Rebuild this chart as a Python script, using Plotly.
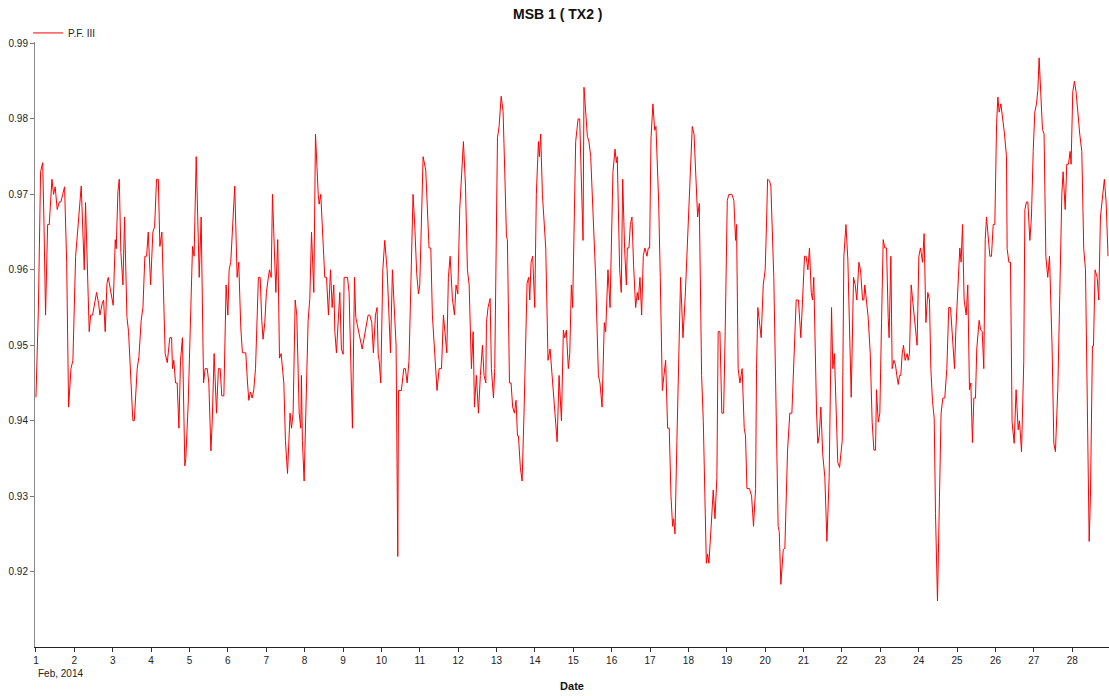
import pandas as pd
import plotly.graph_objects as go

# Hours elapsed since 1 Feb 2014 00:00 and the power-factor reading at that time
HOURS = [
    0, 1.5, 2.9, 4.2, 5, 6, 7.3, 8.3, 10, 11, 12, 13.3, 14.6, 15.6, 16.7, 17.9, 19.2, 20.4, 21.9, 23.1,
    24.8, 26.25, 28.3, 30.2, 31, 33.3, 34.2, 35.4, 36.9, 37.9, 39.2, 40, 41.5, 42.3, 43.3, 44.4, 45.2, 46.9,
    48.3, 49.6, 50.2, 51.25, 52.1, 53.1, 54.4, 55.4, 56.9, 57.9, 59.2, 60.6, 61.5, 62.3, 63.3, 64.4, 65.8,
    66.9, 68.1, 69.2, 70.2, 71.7, 73.1, 74.2, 75.4, 76.5, 77.5, 78.75, 80.2, 80.8, 82.1, 83.3,
    83.7, 84.8, 85.4, 86.2, 87.3, 88.3, 89.4, 90.4, 91.6, 93.1, 93.7, 95.2, 96.4, 97.9, 98.9, 100.2, 102.1,
    103.3, 104.8, 105.8, 107.1, 108.1, 109.4, 110.2, 111.4, 112.9, 114.1, 115.2, 116.2, 117.5, 118.9, 120,
    120.8, 121.8, 124.3, 125.8, 126.8, 128.1, 129.1, 131.2, 132.3, 133.1, 134.1, 135.2, 136.2, 137.3, 139.1,
    140.2, 141.2, 142, 143.1, 144.1, 145.2, 146, 147.1, 147.9, 150, 151.2, 152.3, 153.3, 155, 156, 157.3,
    158.9, 159.8, 160.8, 162.1, 163.1, 164.6, 165.6, 166, 166.6, 167.7,
    169.2, 170.2, 171.25, 172.3, 173.75, 174.8, 176.5, 177.1, 178.1, 180.6, 181.7, 182.9, 184.2, 185.2,
    186.25, 186.9, 187.9, 190, 191, 192.1, 192.7, 194.8, 195.8, 197.9, 199.2, 200, 204, 206, 207.7, 208.75,
    210, 211, 212.3, 213.3, 214, 214.6, 215.6, 216.9, 218.1, 219.6, 221.7, 222.9, 225.2, 226.25, 226.7,
    228.5, 230, 231, 232.1, 233.3, 234.6, 235.8, 236.9, 238.1, 239.2, 240, 242.1, 243.75, 245.8, 246.9,
    247.9, 249.4, 250.8, 252.1,
    253.6, 254.8, 255.9, 256.9, 257.9, 259, 260.4, 261.7, 262.7, 263.8, 265, 266.3, 267.3, 268.6, 269.8,
    270.9, 272.3, 273.4, 274.2, 275.4, 276.7, 277.9, 279.2, 280.2, 281.3, 281.7, 282.7, 284, 284.8, 286.1,
    286.9, 288.6, 289.6, 290.9, 292.1, 293.4, 294.2, 294.8, 296.1, 297.1, 298.1, 299.2, 300.2, 301.1, 301.7,
    302.9, 304, 305.2, 307.1, 308.1, 308.8, 309.6, 310.6, 311.9, 312.9, 314.2, 314.8, 315.6, 316.7, 318.8,
    320.2, 321.5, 322.7, 324, 325.9, 327.1, 328.6, 329.8, 330.6, 331.7, 332.9, 333.8, 334.8, 335.6, 336.7,
    337.5, 339, 340, 342.1, 342.7, 344.8, 345.8, 346.9, 350, 351.7, 352.7, 354, 355.4, 356.25, 357.7, 359,
    360.8, 362.1, 362.9, 363.5, 365, 366, 366.9, 368.1, 369.2, 369.8, 370.8, 371.7, 372.7, 373.75, 375, 376,
    376.7, 377.7, 378.75, 379.8, 380.8, 382.1, 382.9, 383.75, 384.6, 385.8, 386.9, 387.7, 389.4, 390.4,
    391.7, 392.7, 393.75, 395, 396, 397.1, 398.1, 398.75, 399.6, 400.8, 401.9, 403.1, 404.6, 406, 407.9,
    409.2, 410.4, 411.5, 412.3, 413.75, 414.8, 415.6, 416.25, 417.3, 418.3, 419.2, 420, 420.8,
    422.3, 423.5, 424.6, 425.8, 426.6, 427.7, 428.9, 430, 431, 432.3, 433.3, 435.2, 436.4, 437.5, 438.1,
    439.1, 440.2, 441.6, 442.9, 443.7, 444.6, 446.2, 447.5, 448.7, 450, 450.6, 451.4, 452.5, 453.5, 454.8,
    456, 456.85, 457.5, 458.7, 459.55, 461.4, 462.9, 464.1, 464.8, 465.8, 467.3, 468.3, 470, 471.4, 472.7,
    473.9, 475.4, 476.8, 478.3, 479.8, 480.6, 481.6, 482.7, 483.7, 484.8, 485.6, 486.4, 488.1, 488.9, 489.8,
    490.8, 492, 493.3, 494.6, 496, 497.5, 498.3, 499.3, 500.6, 501.4, 502.5,
    504.2, 505.2, 506.5, 507.7, 508.75, 509.8, 511.25, 512.3, 513.3, 514.6, 515.6, 516.9, 517.7, 518.3,
    520.4, 521.7, 522.9, 524, 525, 525.6, 526.7, 527.7, 528.75, 529.8, 530.8, 531.9, 532.9, 533.5, 534.6,
    535.4, 536.5, 537.5, 538.3, 539.2, 540, 540.8, 541.7, 542.5, 543.5, 544.8, 545.4, 546.25, 547.3, 548.75,
    550, 551, 552.1, 553.1, 554.4, 555.4, 556.5, 557.7, 558.75, 559.6, 560.6, 561.7, 562.5, 563.3, 563.75,
    565, 566, 567.1, 568.3, 569.6, 570.8, 571.9, 573.1, 574.4, 575.2, 576.5, 577.7, 578.5, 579.4, 580.4,
    581.7, 582.7, 583.75, 584.6, 585.6, 586.5, 587.5, 588.3, 589.8,
    590.65, 591.7, 592.7, 593.6, 594.4, 595.4, 596.5, 597.5, 598.6, 599.6, 600.7, 601.5, 602.3, 603.4,
    604.6, 605.65, 606.9, 607.3, 608.4, 609.4, 610.4, 611.7, 612.9, 614.2, 615, 616.3, 617.7, 618.4, 619.4,
    620.25, 621.5, 622.5, 623.6, 624.6, 625.65, 626.5, 627.3, 628.4, 629.4, 630.4, 631.5, 632.7, 633.8,
    635.4, 636.5, 637.5, 639, 640.2, 641.5, 642.3, 643.6, 644.6, 645.65, 646.7, 647.3, 648.35, 649.4, 650.4,
    651.5, 652.7, 654, 655.2, 656.3, 657.5, 658.6, 659.4, 660.65, 661.3, 662.3, 663.6, 664.6, 665.65, 667.1,
    668.1, 669.2, 670.4,
]

PF_III = [
    .9431, .9547, .973, .9742, .9663, .954, .966, .966, .972, .970, .971, .968, .969, .969, .970, .971, .961,
    .9418, .9469, .948, .9618, .9662, .9711, .960, .9689, .9518, .954, .954, .956, .957, .9555, .954, .9556,
    .956, .9518, .9582, .959, .957, .9553, .964, .9628, .9704, .972, .9623, .958, .967, .9537, .9518, .946,
    .940, .940, .9441, .9469, .9485, .9533, .955, .9618, .9618, .965, .958, .965, .9657, .972, .972, .9631,
    .965, .9537, .9489, .9477, .951,
    .951, .951, .9469, .948, .945, .945, .939, .948, .951, .934, .935, .9422, .9518, .9631, .9618, .975,
    .959, .967, .945, .9469, .9469, .945, .936, .9398, .9489, .941, .9469, .9469, .9433, .9433, .958, .954,
    .960, .961, .9711, .959, .961, .9523, .949, .949, .945, .9427, .9438, .943, .9441, .9469, .959, .959,
    .9533, .9508, .953, .957, .9588, .960, .959, .970, .957, .964, .9483, .9489, .945, .9374, .933, .941,
    .939, .941, .956, .954, .941, .939, .946, .9374, .932,
    .9469, .9533, .9562, .965, .957, .978, .970, .9687, .970, .959, .959, .954, .960, .955, .958, .9518,
    .949, .957, .9495, .9488, .959, .959, .957, .939, .959, .9537, .9495, .9518, .954, .954, .953, .949,
    .954, .955, .9488, .948, .945, .960, .9639, .960, .949, .960, .950, .922, .944, .944, .9469, .9469,
    .945, .948, .9604, .970, .9657, .9595, .9568, .958, .975, .9732, .9629, .9629, .954, .948, .944, .9469,
    .9469, .954, .9518, .949, .959, .9618, .9562, .954, .958, .9568, .9681, .9735, .977, .9711, .960, .958,
    .9469, .9518, .9418, .946, .941, .946, .950, .946, .945, .953, .955, .9562, .9469, .943, .9469, .9775,
    .979, .983, .981, .9711, .9645, .964, .945, .945, .9418, .941, .9427, .938, .938, .9338, .932, .941,
    .9582, .959, .956, .961, .9618, .955, .970, .977, .975, .978, .970, .9628, .948, .9495, .946, .9422,
    .9372, .946, .940, .952, .951, .952, .9469, .9489, .958, .955, .970,
    .977, .980, .980, .9639, .9842, .9777, .977, .975, .959, .946, .945, .9418, .953, .9518, .960, .955,
    .973, .976, .9742, .975, .960, .957, .972, .9628, .958, .9629, .9629, .966, .967, .9604, .955, .957,
    .956, .959, .954, .9619, .9629, .9618, .9629, .9629, .9775, .982, .9785, .979, .969, .959, .944, .946,
    .948, .939, .939, .930, .926, .927, .925, .9374, .9495, .959, .951, .9565, .9662, .9743, .979, .978,
    .974, .967, .9688, .9528, .946, .940, .9287, .9211, .9223, .9211,
    .9263, .9308, .927, .9325, .9518, .9518, .941, .941, .9518, .9692, .970, .970, .9692, .9639, .966,
    .9469, .945, .9469, .939, .938, .931, .931, .930, .926, .931, .9469, .955, .9523, .951, .958, .960,
    .9662, .972, .9718, .9711, .959, .9422, .926, .9253, .9183, .9229, .9231, .9361, .941, .941, .9483,
    .956, .956, .951, .958, .9618, .9618, .960, .9629, .957, .956, .959, .9413, .937, .938, .9418, .9355,
    .9325, .924, .9325, .955, .9469, .9489, .941, .9345, .9338,
    .9374, .9618, .966, .9613, .9504, .9431, .959, .958, .956, .961, .960, .956, .956, .958, .9537, .9489,
    .9398, .9361, .9361, .9441, .9398, .941, .953, .964, .9629, .9629, .9537, .951, .9618, .9469, .948,
    .9474, .946, .9448, .946, .946, .9489, .950, .948, .9489, .948, .9489, .958, .955, .9518, .950, .9618,
    .9629, .961, .9648, .953, .957, .956, .9469, .9427, .9403, .9277, .9173, .9161, .930, .941, .943, .943,
    .9469, .955, .955, .9508, .9469, .9518, .9585, .9629, .961, .966, .956, .954, .958, .9441, .945, .9371,
    .943, .943, .9495, .9533,
    .9521, .9518, .9469, .964, .967, .9639, .9618, .9618, .966, .966, .9794, .9829, .9809, .982, .980, .978,
    .975, .9628, .961, .961, .9398, .937, .9441, .9388, .940, .9359, .9478, .968, .969, .969, .9639, .967,
    .9757, .9809, .982, .9838, .9881, .9818, .9786, .978, .9618, .959, .9618, .9499, .937, .9359, .9443,
    .9566, .970, .973, .968, .974, .974, .9757, .974, .9836, .985, .9836, .9807, .978, .9757, .9628, .960,
    .9443, .924, .930, .9499, .9499, .960, .959, .956, .967, .970, .972, .969, .9618,
]

DAYS = list(range(1, 29))
Y_TICKS = [0.92, 0.93, 0.94, 0.95, 0.96, 0.97, 0.98, 0.99]
START = pd.Timestamp("2014-02-01")

times = START + pd.to_timedelta(HOURS, unit="h")
tick_times = [START + pd.Timedelta(days=d - 1) for d in DAYS]

FONT = "Liberation Sans, Arial, sans-serif"

fig = go.Figure()
fig.add_trace(go.Scatter(
    x=times, y=PF_III, mode="lines", name="P.F. III",
    line=dict(color="#ff0000", width=1),
))

fig.update_layout(
    width=1109, height=696,
    paper_bgcolor="white", plot_bgcolor="white",
    margin=dict(l=35, r=0, t=42, b=49),
    font=dict(family=FONT, size=10, color="#222222"),
    title=dict(text="<b>MSB 1 ( TX2 )</b>", x=0.503, xanchor="center",
               y=1 - 14 / 696, yanchor="middle", yref="container",
               font=dict(size=14, color="#111111")),
    showlegend=True,
    legend=dict(x=-0.0065, y=1.015, xanchor="left", yanchor="middle",
                orientation="h", bgcolor="rgba(0,0,0,0)",
                font=dict(size=10, color="#222222")),
    xaxis=dict(
        type="date", automargin=False,
        range=[START - pd.Timedelta(hours=0.6), START + pd.Timedelta(hours=671)],
        tickvals=tick_times, ticktext=[str(d) for d in DAYS],
        ticks="outside", ticklen=4, tickcolor="#333333",
        showline=True, linecolor="#222222", linewidth=1,
        showgrid=False, zeroline=False,
        title=dict(text="<b>Date</b>", font=dict(size=11, color="#111111"), standoff=17),
    ),
    yaxis=dict(
        automargin=False,
        range=[0.91, 0.9902],
        tickvals=Y_TICKS, ticktext=[f"{v:.2f}" for v in Y_TICKS],
        ticks="outside", ticklen=4, tickcolor="#777777",
        showline=True, linecolor="#888888", linewidth=1,
        showgrid=False, zeroline=False,
    ),
)

fig.add_annotation(
    x=START, y=-(673 - 647) / 605, xref="x", yref="paper",
    text="Feb, 2014", showarrow=False, xanchor="left", yanchor="middle",
    font=dict(size=10, color="#222222"),
)

fig.write_html(
    "out.html",
    config={"displayModeBar": False},
    post_script="document.body.style.margin='0';document.body.style.padding='0';",
)
